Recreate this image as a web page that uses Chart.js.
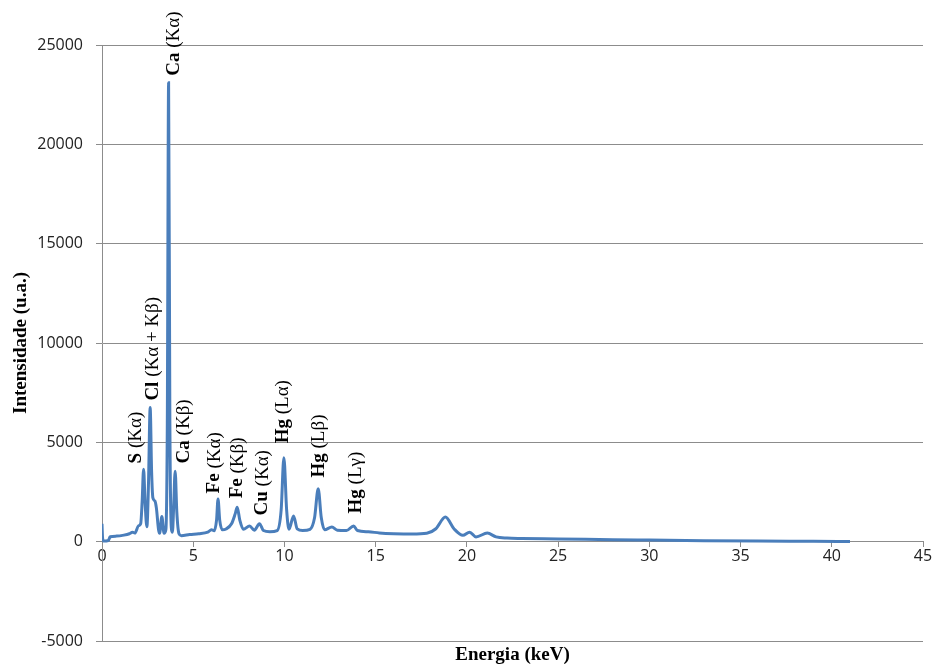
<!DOCTYPE html>
<html>
<head>
<meta charset="utf-8">
<script src="https://cdn.jsdelivr.net/npm/chart.js@4.4.1/dist/chart.umd.min.js"></script>
<style>
  html, body { margin: 0; padding: 0; background: #fff; }
  #wrap { width: 936px; height: 668px; }
</style>
</head>
<body>
<div id="wrap"><canvas id="spectrum" width="936" height="668"></canvas></div>
<script>
// XRF spectrum: energy (keV) vs intensity (u.a.)
var energy = [0.00, 0.03, 0.08, 0.35, 0.45, 0.8, 1.2, 1.5, 1.68, 1.8, 2.0, 2.12, 2.20, 2.28, 2.36,
  2.46, 2.55, 2.64, 2.72, 2.79, 2.90, 2.98, 3.10, 3.16, 3.28, 3.40, 3.50, 3.58, 3.65, 3.72,
  3.80, 3.86, 3.93, 4.01, 4.10, 4.22, 4.35, 4.8, 5.3, 5.8, 6.0, 6.15, 6.28, 6.36, 6.45,
  6.60, 6.8, 7.1, 7.3, 7.41, 7.55, 7.75, 8.09, 8.35, 8.63, 8.85, 9.2, 9.6, 9.82, 9.97,
  10.12, 10.25, 10.50, 10.7, 11.0, 11.4, 11.65, 11.85, 12.02, 12.2, 12.6, 12.9, 13.4, 13.79, 14.0,
  14.6, 15.2, 16.0, 17.0, 17.8, 18.3, 18.82, 19.3, 19.78, 20.15, 20.5, 21.12, 21.6, 22.2, 23.0,
  25.0, 28.0, 30.0, 33.0, 36.0, 39.0, 41.0];
var intensity = [900, 200, 30, 60, 250, 280, 330, 400, 480, 430, 800, 900, 2000, 3650, 2000,
  750, 3000, 6750, 3500, 2200, 2050, 1700, 600, 420, 1270, 420, 600, 6000, 23100, 6000,
  700, 480, 1800, 3550, 1500, 400, 300, 360, 400, 480, 600, 550, 1100, 2150, 1100,
  600, 640, 900, 1400, 1730, 1100, 620, 790, 580, 900, 560, 500, 560, 1600, 4220,
  1600, 620, 1290, 640, 560, 620, 1200, 2660, 1200, 600, 740, 580, 560, 790, 560,
  500, 440, 400, 380, 420, 650, 1240, 640, 320, 480, 240, 430, 240, 180, 160,
  140, 100, 80, 50, 30, 20, 10];

var xTicks = [0, 5, 10, 15, 20, 25, 30, 35, 40, 45];
var yTicks = [-5000, 0, 5000, 10000, 15000, 20000, 25000];

// peak labels: element (bold) + line, anchored at (energy, intensity) where the text starts
var peakElement = ['S', 'Cl', 'Ca', 'Ca', 'Fe', 'Fe', 'Cu', 'Hg', 'Hg', 'Hg'];
var peakLine = ['(K\u03b1)', '(K\u03b1 + K\u03b2)', '(K\u03b1)', '(K\u03b2)', '(K\u03b1)', '(K\u03b2)',
  '(K\u03b1)', '(L\u03b1)', '(L\u03b2)', '(L\u03b3)'];
var labelEnergy = [1.88, 2.82, 3.97, 4.52, 6.17, 7.43, 8.80, 9.90, 11.92, 13.95];
var labelIntensity = [3940, 7100, 23450, 3940, 2430, 2180, 1320, 4950, 3230, 1420];

var points = [];
for (var i = 0; i < energy.length; i++) {
  points.push({x: energy[i], y: intensity[i]});
}

var serifBold = 'bold 19px "Liberation Serif", "Times New Roman", serif';
var serifNormal = '19px "Liberation Serif", "Times New Roman", serif';

var peakLabels = {
  id: 'peakLabels',
  afterDatasetsDraw: function(chart) {
    var ctx = chart.ctx;
    var xs = chart.scales.x, ys = chart.scales.y;
    ctx.save();
    ctx.fillStyle = '#000';
    ctx.textBaseline = 'middle';
    ctx.textAlign = 'left';
    for (var i = 0; i < peakElement.length; i++) {
      var px = xs.getPixelForValue(labelEnergy[i]);
      var py = ys.getPixelForValue(labelIntensity[i]);
      ctx.save();
      ctx.translate(px, py);
      ctx.rotate(-Math.PI / 2);
      ctx.font = serifBold;
      ctx.fillText(peakElement[i], 0, 0);
      var w = ctx.measureText(peakElement[i] + ' ').width;
      ctx.font = serifNormal;
      ctx.fillText(peakLine[i], w, 0);
      ctx.restore();
    }
    // axis titles
    var area = chart.chartArea;
    ctx.font = serifBold;
    ctx.textAlign = 'center';
    ctx.fillText('Energia (keV)', (area.left + area.right) / 2, 655);
    ctx.save();
    ctx.translate(21, (area.top + area.bottom) / 2);
    ctx.rotate(-Math.PI / 2);
    ctx.fillText('Intensidade (u.a.)', 0, 0);
    ctx.restore();
    ctx.restore();
  }
};

var tickFont = {family: '"Open Sans", sans-serif', size: 16};
var plainNumber = function(v) { return String(v); };

new Chart(document.getElementById('spectrum'), {
  type: 'line',
  data: {
    datasets: [{
      label: 'Espectro',
      data: points,
      borderColor: '#4A7EBB',
      borderWidth: 3,
      pointRadius: 0,
      fill: false,
      cubicInterpolationMode: 'monotone'
    }]
  },
  options: {
    responsive: false,
    animation: false,
    layout: {padding: {top: 45, right: 13, bottom: 27, left: 0}},
    plugins: {
      legend: {display: false},
      tooltip: {enabled: false}
    },
    scales: {
      x: {
        type: 'linear',
        position: {y: 0},
        min: 0,
        max: 45,
        afterBuildTicks: function(scale) {
          scale.ticks = xTicks.map(function(v) { return {value: v}; });
        },
        grid: {drawOnChartArea: false, drawTicks: true, tickLength: 5, color: '#8C8C8C'},
        border: {color: '#8C8C8C', width: 1},
        ticks: {font: tickFont, color: '#222', padding: 0, maxRotation: 0, callback: plainNumber}
      },
      y: {
        type: 'linear',
        position: 'left',
        min: -5000,
        max: 25000,
        afterBuildTicks: function(scale) {
          scale.ticks = yTicks.map(function(v) { return {value: v}; });
        },
        afterFit: function(scale) { scale.width = 102; },
        grid: {color: '#8C8C8C', lineWidth: 1, tickLength: 6},
        border: {color: '#8C8C8C', width: 1},
        ticks: {font: tickFont, color: '#222', padding: 13, callback: plainNumber}
      }
    }
  },
  plugins: [peakLabels]
});
</script>
</body>
</html>
